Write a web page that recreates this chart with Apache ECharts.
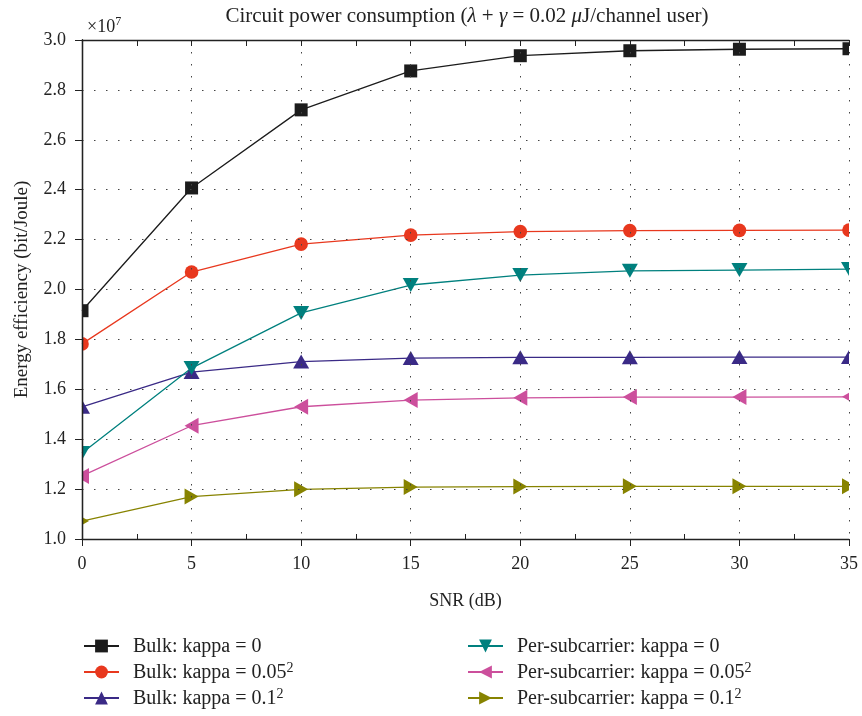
<!DOCTYPE html>
<html><head><meta charset="utf-8">
<script src="https://cdn.jsdelivr.net/npm/echarts@6/dist/echarts.min.js"></script>
<style>html,body{margin:0;padding:0;background:#fff}#c{width:862px;height:716px}</style>
</head><body><div id="c"></div>
<script>
const snr = [0, 5, 10, 15, 20, 25, 30, 35];
const bulk0 = [1.915, 2.407, 2.72, 2.876, 2.937, 2.957, 2.963, 2.965];
const bulk005 = [1.782, 2.07, 2.182, 2.218, 2.232, 2.236, 2.237, 2.238];
const bulk01 = [1.53, 1.669, 1.711, 1.725, 1.728, 1.728, 1.729, 1.729];
const per0 = [1.345, 1.685, 1.906, 2.018, 2.058, 2.075, 2.078, 2.082];
const per005 = [1.253, 1.454, 1.53, 1.557, 1.566, 1.569, 1.569, 1.57];
const per01 = [1.072, 1.17, 1.199, 1.208, 1.21, 1.211, 1.211, 1.211];
const yTicks = [1.0, 1.2, 1.4, 1.6, 1.8, 2.0, 2.2, 2.4, 2.6, 2.8, 3.0];
const names = ['Bulk: kappa = 0', 'Bulk: kappa = 0.05^2', 'Bulk: kappa = 0.1^2',
  'Per-subcarrier: kappa = 0', 'Per-subcarrier: kappa = 0.05^2', 'Per-subcarrier: kappa = 0.1^2'];

const FONT = '"Liberation Serif", "DejaVu Serif", serif';
const INK = '#222';
const pair = a => snr.map((x, i) => [x, a[i]]);

function lineSeries(name, data, color, symbol, rot) {
  return { name, type: 'line', data: pair(data), symbol, symbolRotate: rot || 0, showSymbol: false,
    lineStyle: { color, width: 1.3 }, itemStyle: { color }, z: 3, silent: true };
}
function markerSeries(data, color, shape) {
  return { type: 'custom', coordinateSystem: 'cartesian2d', clip: true, silent: true, z: 4,
    data: pair(data), encode: { x: 0, y: 1 },
    renderItem: (params, api) => {
      const p = api.coord([api.value(0), api.value(1)]);
      const x = p[0], y = p[1];
      const st = { fill: color };
      if (shape === 'square') return { type: 'rect', shape: { x: x - 6.5, y: y - 6.5, width: 13, height: 13 }, style: st };
      if (shape === 'circle') return { type: 'circle', shape: { cx: x, cy: y, r: 6.8 }, style: st };
      const w = 16, h = 14;
      let pts;
      if (shape === 'up') pts = [[x, y - h / 2], [x - w / 2, y + h / 2], [x + w / 2, y + h / 2]];
      else if (shape === 'down') pts = [[x, y + h / 2], [x - w / 2, y - h / 2], [x + w / 2, y - h / 2]];
      else if (shape === 'left') pts = [[x - h / 2, y], [x + h / 2, y - w / 2], [x + h / 2, y + w / 2]];
      else pts = [[x + h / 2, y], [x - h / 2, y - w / 2], [x - h / 2, y + w / 2]];
      return { type: 'polygon', shape: { points: pts }, style: st };
    } };
}
const legendFmt = n => {
  const m = n.match(/^(.*)\^(\d)$/);
  return m ? '{t|' + m[1] + '}{s|' + m[2] + '}' : '{t|' + n + '}';
};
const legendText = { fontFamily: FONT, fontSize: 20, color: INK, padding: [0, 0, 0, 9],
  rich: { t: { fontFamily: FONT, fontSize: 20, color: INK, lineHeight: 22, verticalAlign: 'bottom' },
          s: { fontFamily: FONT, fontSize: 14, color: INK, lineHeight: 14, verticalAlign: 'top' } } };
const chart = echarts.init(document.getElementById('c'), null, { renderer: 'canvas' });
const axLine = { show: true, lineStyle: { color: INK, width: 1.3 } };
const grid = { show: true, lineStyle: { color: '#444', type: [1.5, 10.5], width: 1 } };
chart.setOption({
  animation: false,
  textStyle: { fontFamily: FONT },
  title: [
    { text: '{n|Circuit power consumption (}{i|λ}{n| + }{i|γ}{n| = 0.02 }{i|μ}{n|J/channel user)}',
      left: 462, top: 1, textAlign: 'center',
      textStyle: { fontWeight: 'normal', rich: { n: { fontFamily: FONT, fontSize: 21, fontWeight: 'normal', color: INK },
        i: { fontFamily: FONT, fontSize: 21, fontStyle: 'italic', fontWeight: 'normal', color: INK } } } },
    { text: '{n|×10}{s|7}', left: 82, top: 11,
      textStyle: { fontWeight: 'normal', rich: { n: { fontFamily: FONT, fontSize: 18, fontWeight: 'normal', color: INK, lineHeight: 20, verticalAlign: 'bottom' },
        s: { fontFamily: FONT, fontSize: 12, fontWeight: 'normal', color: INK, lineHeight: 12, verticalAlign: 'top' } } } }
  ],
  grid: { left: 82, right: 13, top: 40, bottom: 177, containLabel: false },
  xAxis: [
    { type: 'value', min: 0, max: 35, interval: 5, position: 'bottom', z: 5,
      name: 'SNR (dB)', nameLocation: 'middle', nameGap: 53,
      nameTextStyle: { fontFamily: FONT, fontSize: 18, color: INK },
      axisLine: axLine, axisTick: { inside: false, length: 7, lineStyle: { color: INK } },
      minorTick: { show: true, splitNumber: 2, length: -5, lineStyle: { color: INK } },
      axisLabel: { fontFamily: FONT, fontSize: 18, color: INK, margin: 16 },
      splitLine: grid },
    { type: 'value', min: 0, max: 35, interval: 5, position: 'top', z: 5,
      axisLine: axLine, axisTick: { inside: true, length: 6, lineStyle: { color: INK } },
      minorTick: { show: true, splitNumber: 2, length: 6, lineStyle: { color: INK } },
      axisLabel: { show: false }, splitLine: { show: false } }
  ],
  yAxis: [
    { type: 'value', min: 1.0, max: 3.0, interval: 0.2, position: 'left', z: 5,
      name: 'Energy efficiency (bit/Joule)', nameLocation: 'middle', nameGap: 50,
      nameTextStyle: { fontFamily: FONT, fontSize: 19, color: INK },
      axisLine: axLine, axisTick: { inside: false, length: 7, lineStyle: { color: INK } },
      axisLabel: { fontFamily: FONT, fontSize: 18, color: INK, margin: 16,
        formatter: v => { const t = yTicks.find(k => Math.abs(k - v) < 1e-6); return (t !== undefined ? t : v).toFixed(1); } },
      splitLine: grid },
    { type: 'value', min: 1.0, max: 3.0, interval: 0.2, position: 'right', z: 5,
      axisLine: axLine, axisTick: { inside: true, length: 7, lineStyle: { color: INK } },
      axisLabel: { show: false }, splitLine: { show: false } }
  ],
  legend: [
    { data: names.slice(0, 3), orient: 'vertical', left: 78, top: 632, height: 200, padding: 5, itemWidth: 35, itemHeight: 16, itemGap: 4,
      formatter: legendFmt, textStyle: legendText },
    { data: names.slice(3), orient: 'vertical', left: 462, top: 632, height: 200, padding: 5, itemWidth: 35, itemHeight: 16, itemGap: 4,
      formatter: legendFmt, textStyle: legendText }
  ],
  series: [
    lineSeries(names[0], bulk0, '#1c1c1c', 'rect'),
    lineSeries(names[1], bulk005, '#e8381e', 'circle'),
    lineSeries(names[2], bulk01, '#3a2a86', 'triangle'),
    lineSeries(names[3], per0, '#00807e', 'triangle', 180),
    lineSeries(names[4], per005, '#cc4f9c', 'triangle', 90),
    lineSeries(names[5], per01, '#878300', 'triangle', -90),
    markerSeries(bulk0, '#1c1c1c', 'square'),
    markerSeries(bulk005, '#e8381e', 'circle'),
    markerSeries(bulk01, '#3a2a86', 'up'),
    markerSeries(per0, '#00807e', 'down'),
    markerSeries(per005, '#cc4f9c', 'left'),
    markerSeries(per01, '#878300', 'right')
  ]
});
</script></body></html>
